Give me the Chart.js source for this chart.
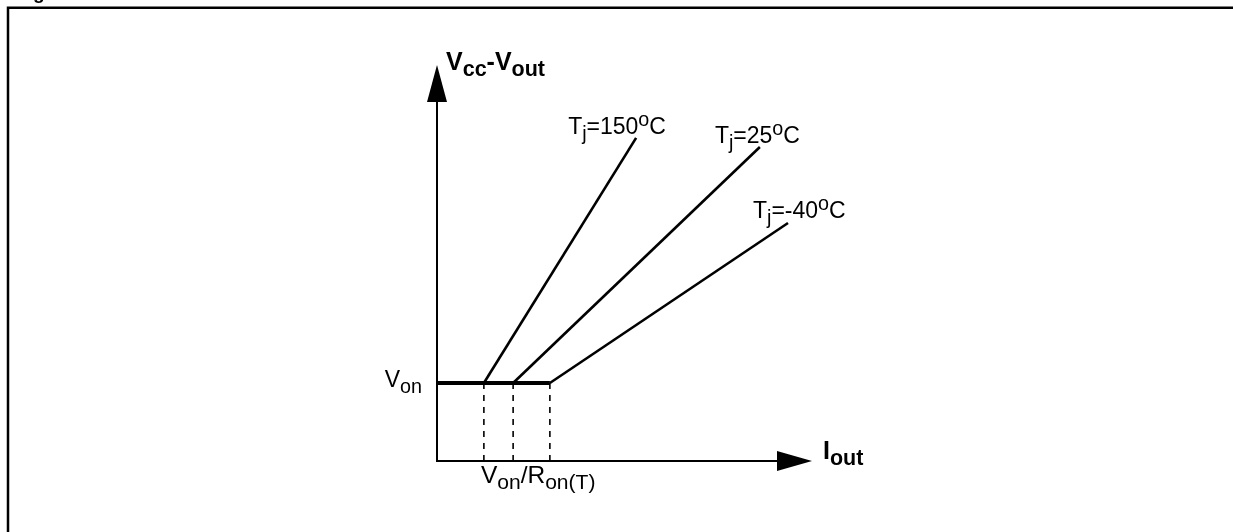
<!DOCTYPE html>
<html>
<head>
<meta charset="utf-8">
<script src="https://cdn.jsdelivr.net/npm/chart.js@4/dist/chart.umd.min.js"></script>
<style>
  html, body { margin: 0; padding: 0; background: #fff; }
  #wrap { position: relative; width: 1233px; height: 532px; }
</style>
</head>
<body>
<div id="wrap"><canvas id="chart" width="1233" height="532"></canvas></div>
<script>
// temperature cases
const temps = ["150", "25", "-40"];
// knee current Von/Ron(T) for each case
const kneeI = [12.5, 20.3, 30.1];
// end of each sloped line
const endI = [53.1, 86.1, 93.6];
const endV = [81.6, 79.3, 60.1];
// voltage drop plateau
const vOn = 19.7;

const FONT = "'Liberation Sans', Arial, sans-serif";
const SUB = 0.86;

// text with sub / superscripts
function richWidth(ctx, parts, size, bold) {
  let w = 0;
  parts.forEach(([t, kind]) => {
    const s = kind ? size * SUB : size;
    ctx.font = (bold ? "bold " : "") + s + "px " + FONT;
    w += ctx.measureText(t).width;
  });
  return w;
}

function drawRich(ctx, x, y, parts, size, bold) {
  ctx.textAlign = "left";
  ctx.textBaseline = "alphabetic";
  parts.forEach(([t, kind]) => {
    const s = kind ? size * SUB : size;
    ctx.font = (bold ? "bold " : "") + s + "px " + FONT;
    let dy = 0;
    if (kind === "sub") dy = size * 0.25;
    if (kind === "sup") dy = -size * 0.36;
    ctx.fillText(t, x, y + dy);
    x += ctx.measureText(t).width;
  });
}

// sloped lines, one per temperature
const slopeSets = temps.map((t, i) => ({
  label: "Tj=" + t,
  data: [{ x: kneeI[i], y: vOn }, { x: endI[i], y: endV[i] }],
  borderColor: "#000",
  borderWidth: 2.6,
}));

// dashed drop lines at the knees
const dropSets = kneeI.map((k) => ({
  label: "knee",
  data: [{ x: k, y: vOn }, { x: k, y: 0 }],
  borderColor: "#000",
  borderWidth: 1.6,
  borderDash: [6, 6],
}));

// flat Von part
const flatSet = {
  label: "Von",
  data: [{ x: 0, y: vOn }, { x: Math.max(...kneeI), y: vOn }],
  borderColor: "#000",
  borderWidth: 3.8,
};

// axes, arrows, labels and the outer frame
const decorPlugin = {
  id: "decor",
  afterDatasetsDraw(chart) {
    const ctx = chart.ctx;
    const a = chart.chartArea;
    const xs = chart.scales.x;
    const ys = chart.scales.y;
    ctx.save();
    ctx.fillStyle = "#000";
    ctx.strokeStyle = "#000";

    // frame
    ctx.lineWidth = 2.5;
    ctx.beginPath();
    ctx.moveTo(8, 532);
    ctx.lineTo(8, 7.8);
    ctx.lineTo(1233, 7.8);
    ctx.stroke();

    // caption, cut off at the top
    ctx.font = "bold 19px " + FONT;
    ctx.textAlign = "left";
    ctx.textBaseline = "alphabetic";
    ctx.fillText("Figure", 16, -0.8);

    // axis lines
    ctx.lineWidth = 2;
    ctx.beginPath();
    ctx.moveTo(a.left, a.top + 30);
    ctx.lineTo(a.left, a.bottom);
    ctx.lineTo(a.right - 30, a.bottom);
    ctx.stroke();

    // y arrow
    ctx.beginPath();
    ctx.moveTo(a.left, a.top);
    ctx.lineTo(a.left - 10, a.top + 37);
    ctx.lineTo(a.left + 10, a.top + 37);
    ctx.closePath();
    ctx.fill();

    // x arrow
    ctx.beginPath();
    ctx.moveTo(a.right, a.bottom);
    ctx.lineTo(a.right - 35, a.bottom - 10);
    ctx.lineTo(a.right - 35, a.bottom + 10);
    ctx.closePath();
    ctx.fill();

    // axis titles
    drawRich(ctx, a.left + 9, a.top + 5,
      [["V"], ["cc", "sub"], ["-V"], ["out", "sub"]], 25, true);
    drawRich(ctx, a.right + 11, a.bottom - 2,
      [["I"], ["out", "sub"]], 25, true);

    // Von label left of the axis
    const vonParts = [["V"], ["on", "sub"]];
    const vw = richWidth(ctx, vonParts, 23, false);
    drawRich(ctx, a.left - 15 - vw, ys.getPixelForValue(vOn) + 4, vonParts, 23, false);

    // Von/Ron(T) under the knees
    drawRich(ctx, xs.getPixelForValue(kneeI[0]) - 3, a.bottom + 22,
      [["V"], ["on", "sub"], ["/R"], ["on(T)", "sub"]], 24.5, false);

    // temperature labels at line ends
    const offs = [[-68, -4], [-45, -4], [-35, -5]];
    temps.forEach((t, i) => {
      const px = xs.getPixelForValue(endI[i]) + offs[i][0];
      const py = ys.getPixelForValue(endV[i]) + offs[i][1];
      drawRich(ctx, px, py,
        [["T"], ["j", "sub"], ["=" + t], ["o", "sup"], ["C"]], 23, false);
    });

    ctx.restore();
  },
};

const ctx = document.getElementById("chart").getContext("2d");
new Chart(ctx, {
  type: "scatter",
  data: { datasets: [...dropSets, flatSet, ...slopeSets] },
  options: {
    responsive: false,
    animation: false,
    devicePixelRatio: 1,
    showLine: true,
    clip: false,
    elements: { point: { radius: 0, hoverRadius: 0 }, line: { tension: 0 } },
    layout: { padding: { left: 437, right: 421, top: 65, bottom: 71 } },
    scales: {
      x: { type: "linear", min: 0, max: 100, display: false },
      y: { type: "linear", min: 0, max: 100, display: false },
    },
    plugins: { legend: { display: false }, tooltip: { enabled: false } },
  },
  plugins: [decorPlugin],
});
</script>
</body>
</html>
